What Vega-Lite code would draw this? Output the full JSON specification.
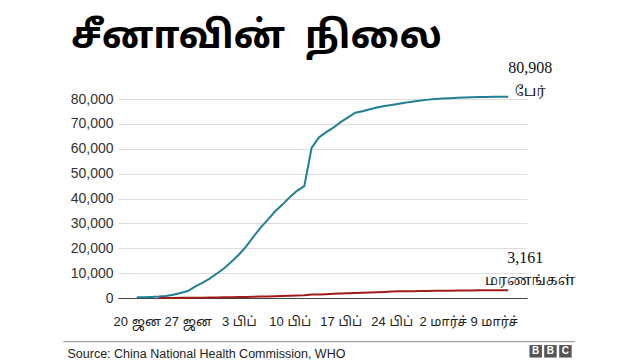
{
  "$schema": "https://vega.github.io/schema/vega-lite/v6.json",
  "autosize": {"type": "none"},
  "width": 409,
  "height": 199,
  "padding": {"left": 118, "top": 99, "right": 113, "bottom": 62},
  "background": "white",
  "config": {
    "view": {"stroke": null},
    "axisY": {
      "labelFont": "Liberation Sans, Arial, sans-serif",
      "labelFontSize": 14,
      "labelColor": "#333333",
      "labelPadding": 5,
      "ticks": false,
      "domain": false,
      "grid": true,
      "gridColor": "#dddddd",
      "gridWidth": 1,
      "tickCount": 8,
      "labelOverlap": false,
      "format": ",d",
      "title": null
    }
  },
  "title": {
    "text": "சீனாவின்\u00a0\u00a0நிலை",
    "anchor": "start",
    "frame": "group",
    "orient": "top",
    "font": "Noto Sans Tamil, Noto Serif Tamil, Lohit Tamil, Latha, sans-serif",
    "fontSize": 38,
    "fontWeight": "bold",
    "color": "#000000",
    "offset": 0,
    "dx": -47,
    "dy": -4
  },
  "data": {
    "values": [
      {"date": "2020-01-20", "cases": 280, "deaths": null},
      {"date": "2020-01-21", "cases": 300, "deaths": null},
      {"date": "2020-01-22", "cases": 440, "deaths": null},
      {"date": "2020-01-23", "cases": 580, "deaths": 17},
      {"date": "2020-01-24", "cases": 850, "deaths": 25},
      {"date": "2020-01-25", "cases": 1300, "deaths": 41},
      {"date": "2020-01-26", "cases": 2000, "deaths": 56},
      {"date": "2020-01-27", "cases": 2800, "deaths": 80},
      {"date": "2020-01-28", "cases": 4600, "deaths": 106},
      {"date": "2020-01-29", "cases": 6060, "deaths": 132},
      {"date": "2020-01-30", "cases": 7820, "deaths": 170},
      {"date": "2020-01-31", "cases": 9830, "deaths": 213},
      {"date": "2020-02-01", "cases": 11950, "deaths": 259},
      {"date": "2020-02-02", "cases": 14550, "deaths": 304},
      {"date": "2020-02-03", "cases": 17390, "deaths": 361},
      {"date": "2020-02-04", "cases": 20630, "deaths": 425},
      {"date": "2020-02-05", "cases": 24550, "deaths": 490},
      {"date": "2020-02-06", "cases": 28270, "deaths": 563},
      {"date": "2020-02-07", "cases": 31480, "deaths": 636},
      {"date": "2020-02-08", "cases": 34880, "deaths": 722},
      {"date": "2020-02-09", "cases": 37550, "deaths": 811},
      {"date": "2020-02-10", "cases": 40550, "deaths": 908},
      {"date": "2020-02-11", "cases": 43100, "deaths": 1016},
      {"date": "2020-02-12", "cases": 45000, "deaths": 1113},
      {"date": "2020-02-13", "cases": 60300, "deaths": 1368},
      {"date": "2020-02-14", "cases": 64500, "deaths": 1381},
      {"date": "2020-02-15", "cases": 66700, "deaths": 1524},
      {"date": "2020-02-16", "cases": 68500, "deaths": 1666},
      {"date": "2020-02-17", "cases": 70700, "deaths": 1772},
      {"date": "2020-02-18", "cases": 72600, "deaths": 1870},
      {"date": "2020-02-19", "cases": 74500, "deaths": 2006},
      {"date": "2020-02-20", "cases": 75100, "deaths": 2121},
      {"date": "2020-02-21", "cases": 75900, "deaths": 2239},
      {"date": "2020-02-22", "cases": 76600, "deaths": 2348},
      {"date": "2020-02-23", "cases": 77150, "deaths": 2445},
      {"date": "2020-02-24", "cases": 77600, "deaths": 2595},
      {"date": "2020-02-25", "cases": 78100, "deaths": 2666},
      {"date": "2020-02-26", "cases": 78600, "deaths": 2718},
      {"date": "2020-02-27", "cases": 79000, "deaths": 2747},
      {"date": "2020-02-28", "cases": 79400, "deaths": 2791},
      {"date": "2020-02-29", "cases": 79750, "deaths": 2838},
      {"date": "2020-03-01", "cases": 80000, "deaths": 2873},
      {"date": "2020-03-02", "cases": 80200, "deaths": 2915},
      {"date": "2020-03-03", "cases": 80350, "deaths": 2946},
      {"date": "2020-03-04", "cases": 80500, "deaths": 2984},
      {"date": "2020-03-05", "cases": 80620, "deaths": 3015},
      {"date": "2020-03-06", "cases": 80720, "deaths": 3045},
      {"date": "2020-03-07", "cases": 80790, "deaths": 3073},
      {"date": "2020-03-08", "cases": 80840, "deaths": 3100},
      {"date": "2020-03-09", "cases": 80870, "deaths": 3123},
      {"date": "2020-03-10", "cases": 80890, "deaths": 3140},
      {"date": "2020-03-11", "cases": 80908, "deaths": 3161}
    ]
  },
  "encoding": {
    "x": {
      "field": "date",
      "type": "temporal",
      "scale": {
        "type": "utc",
        "domain": [
          {"year": 2020, "month": 1, "date": 17, "hours": 10, "utc": true},
          {"year": 2020, "month": 3, "date": 13, "hours": 14, "utc": true}
        ]
      },
      "axis": {
        "values": [
          {"year": 2020, "month": 1, "date": 20, "utc": true},
          {"year": 2020, "month": 1, "date": 27, "utc": true},
          {"year": 2020, "month": 2, "date": 3, "utc": true},
          {"year": 2020, "month": 2, "date": 10, "utc": true},
          {"year": 2020, "month": 2, "date": 17, "utc": true},
          {"year": 2020, "month": 2, "date": 24, "utc": true},
          {"year": 2020, "month": 3, "date": 2, "utc": true},
          {"year": 2020, "month": 3, "date": 9, "utc": true}
        ],
        "labelExpr": "utcdate(datum.value) + ' ' + (utcmonth(datum.value) == 0 ? 'ஜன' : utcmonth(datum.value) == 1 ? 'பிப்' : 'மார்ச்')",
        "labelFont": "Liberation Sans, Noto Sans Tamil, Lohit Tamil, sans-serif",
        "labelFontSize": 13,
        "labelColor": "#222222",
        "labelPadding": 17,
        "labelOverlap": false,
        "labelFlush": false,
        "ticks": false,
        "tickSize": 0,
        "grid": false,
        "domainColor": "#444444",
        "domainWidth": 1,
        "title": "Source: China National Health Commission, WHO",
        "titleFont": "Liberation Sans, Arial, sans-serif",
        "titleFontSize": 12.5,
        "titleFontWeight": "normal",
        "titleColor": "#222222",
        "titleAnchor": "start",
        "titleAlign": "left",
        "titleBaseline": "alphabetic",
        "titleX": -51,
        "titleY": 59
      }
    }
  },
  "layer": [
    {
      "mark": {"type": "line", "color": "#1f7f94", "strokeWidth": 2, "clip": false},
      "encoding": {
        "y": {
          "field": "cases",
          "type": "quantitative",
          "scale": {"domain": [0, 80000], "nice": false}
        }
      }
    },
    {
      "mark": {"type": "line", "color": "#a01b1b", "strokeWidth": 2, "clip": false},
      "encoding": {
        "y": {"field": "deaths", "type": "quantitative"}
      }
    },
    {
      "transform": [{"filter": "datum.cases == 80908"}],
      "mark": {"type": "text", "font": "Liberation Serif, Times New Roman, serif", "fontSize": 16, "color": "#111111", "dx": 22, "dy": -29, "align": "center", "baseline": "middle"},
      "encoding": {
        "y": {"field": "cases", "type": "quantitative"},
        "text": {"field": "cases", "type": "quantitative", "format": ",d"}
      }
    },
    {
      "transform": [{"filter": "datum.cases == 80908"}],
      "mark": {"type": "text", "text": "பேர்", "font": "Noto Serif Tamil, Noto Sans Tamil, Lohit Tamil, serif", "fontSize": 14, "color": "#111111", "dx": 22, "dy": -5, "align": "center", "baseline": "middle"},
      "encoding": {
        "y": {"field": "cases", "type": "quantitative"}
      }
    },
    {
      "transform": [{"filter": "datum.cases == 80908"}],
      "mark": {"type": "text", "font": "Liberation Serif, Times New Roman, serif", "fontSize": 16, "color": "#111111", "dx": 17, "dy": -32, "align": "center", "baseline": "middle"},
      "encoding": {
        "y": {"field": "deaths", "type": "quantitative"},
        "text": {"field": "deaths", "type": "quantitative", "format": ",d"}
      }
    },
    {
      "transform": [{"filter": "datum.cases == 80908"}],
      "mark": {"type": "text", "text": "மரணங்கள்", "font": "Noto Serif Tamil, Noto Sans Tamil, Lohit Tamil, serif", "fontSize": 14, "color": "#111111", "dx": 22, "dy": -9, "align": "center", "baseline": "middle"},
      "encoding": {
        "y": {"field": "deaths", "type": "quantitative"}
      }
    },
    {
      "transform": [{"filter": "datum.cases == 80908"}],
      "mark": {"type": "rule", "color": "#8a8a8a", "strokeWidth": 1, "clip": false},
      "encoding": {
        "x": {"datum": {"year": 2020, "month": 1, "date": 9, "hours": 22, "utc": true}, "type": "temporal"},
        "x2": {"datum": {"year": 2020, "month": 3, "date": 20, "hours": 4, "utc": true}},
        "y": {"datum": -17570, "type": "quantitative"}
      }
    },
    {
      "transform": [{"filter": "datum.cases == 80908"}],
      "mark": {"type": "point", "shape": "square", "filled": true, "size": 156, "color": "#555555", "opacity": 1, "clip": false},
      "encoding": {
        "x": {"datum": {"year": 2020, "month": 3, "date": 14, "hours": 18, "minutes": 43, "utc": true}, "type": "temporal"},
        "y": {"datum": -21430, "type": "quantitative"}
      }
    },
    {
      "transform": [{"filter": "datum.cases == 80908"}],
      "mark": {"type": "point", "shape": "square", "filled": true, "size": 156, "color": "#555555", "opacity": 1, "clip": false},
      "encoding": {
        "x": {"datum": {"year": 2020, "month": 3, "date": 16, "hours": 19, "minutes": 12, "utc": true}, "type": "temporal"},
        "y": {"datum": -21430, "type": "quantitative"}
      }
    },
    {
      "transform": [{"filter": "datum.cases == 80908"}],
      "mark": {"type": "point", "shape": "square", "filled": true, "size": 156, "color": "#555555", "opacity": 1, "clip": false},
      "encoding": {
        "x": {"datum": {"year": 2020, "month": 3, "date": 18, "hours": 20, "minutes": 38, "utc": true}, "type": "temporal"},
        "y": {"datum": -21430, "type": "quantitative"}
      }
    },
    {
      "transform": [{"filter": "datum.cases == 80908"}],
      "mark": {"type": "text", "text": "B", "font": "Liberation Sans, Arial, sans-serif", "fontSize": 10, "fontWeight": "bold", "color": "white", "align": "center", "baseline": "middle", "clip": false},
      "encoding": {
        "x": {"datum": {"year": 2020, "month": 3, "date": 14, "hours": 18, "minutes": 43, "utc": true}, "type": "temporal"},
        "y": {"datum": -21430, "type": "quantitative"}
      }
    },
    {
      "transform": [{"filter": "datum.cases == 80908"}],
      "mark": {"type": "text", "text": "B", "font": "Liberation Sans, Arial, sans-serif", "fontSize": 10, "fontWeight": "bold", "color": "white", "align": "center", "baseline": "middle", "clip": false},
      "encoding": {
        "x": {"datum": {"year": 2020, "month": 3, "date": 16, "hours": 19, "minutes": 12, "utc": true}, "type": "temporal"},
        "y": {"datum": -21430, "type": "quantitative"}
      }
    },
    {
      "transform": [{"filter": "datum.cases == 80908"}],
      "mark": {"type": "text", "text": "C", "font": "Liberation Sans, Arial, sans-serif", "fontSize": 10, "fontWeight": "bold", "color": "white", "align": "center", "baseline": "middle", "clip": false},
      "encoding": {
        "x": {"datum": {"year": 2020, "month": 3, "date": 18, "hours": 20, "minutes": 38, "utc": true}, "type": "temporal"},
        "y": {"datum": -21430, "type": "quantitative"}
      }
    }
  ]
}
